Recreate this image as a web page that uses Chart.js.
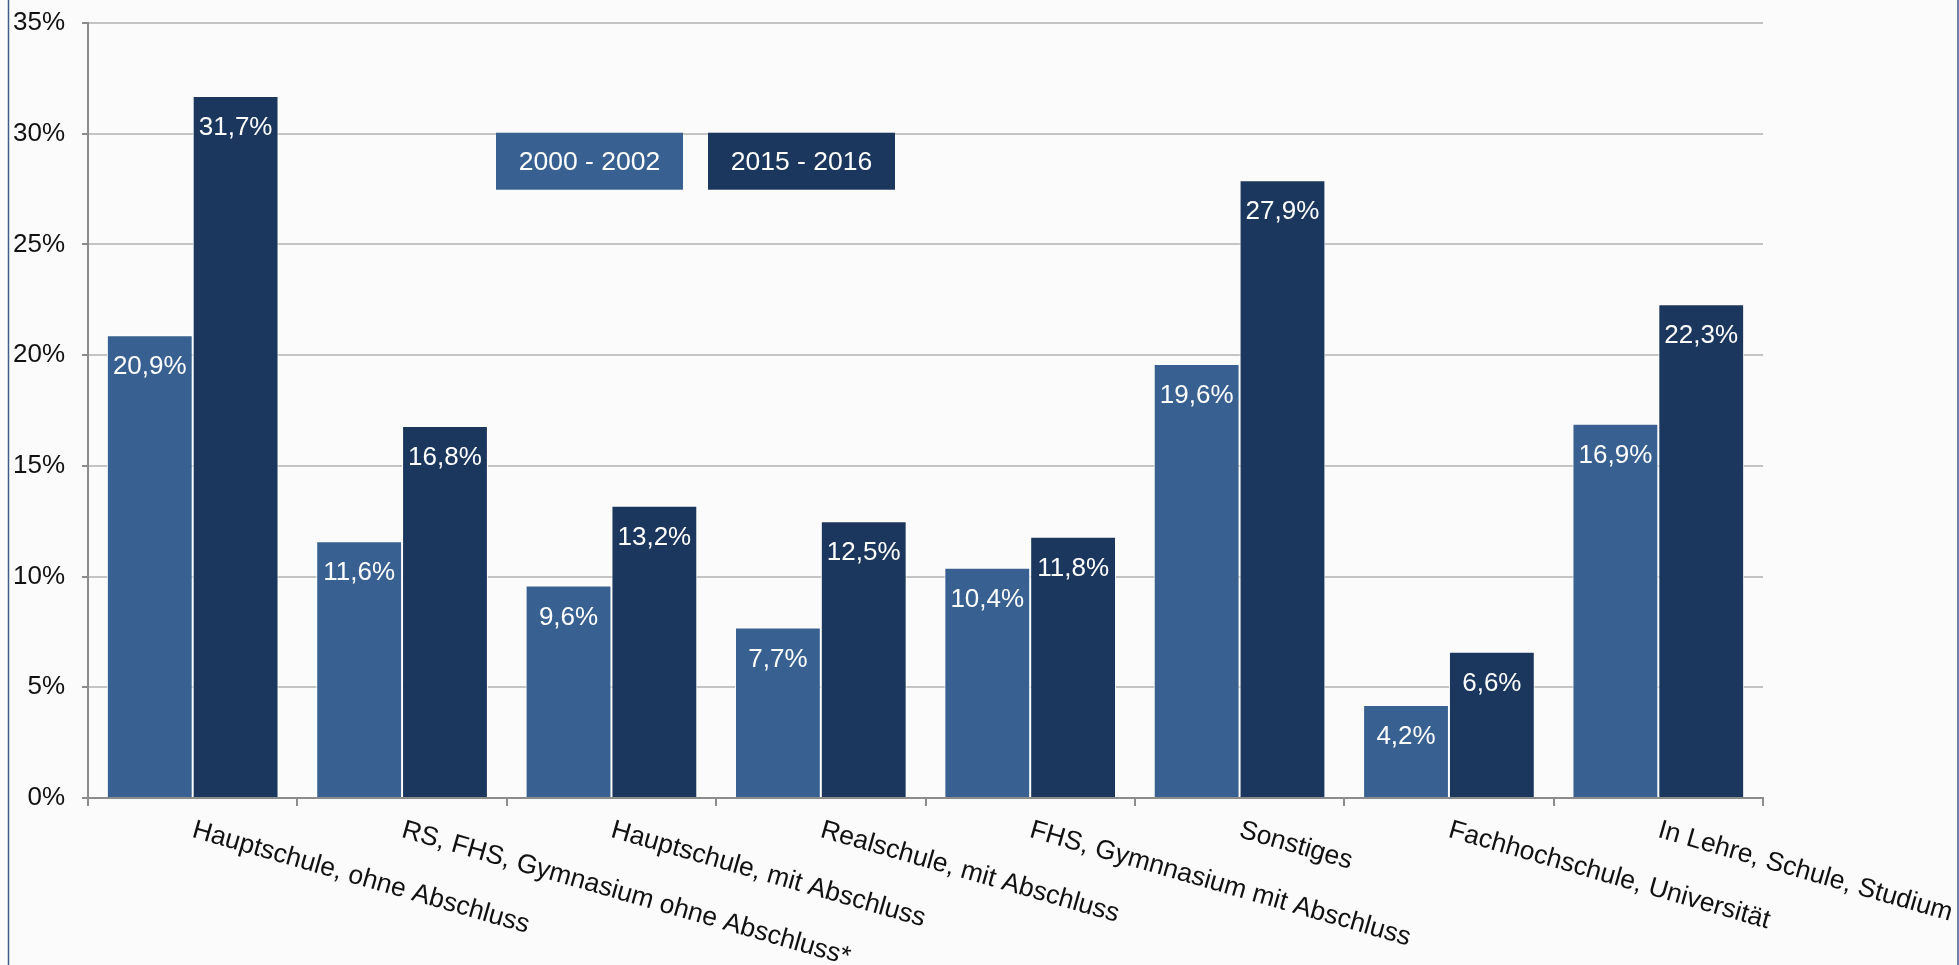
<!DOCTYPE html>
<html>
<head>
<meta charset="utf-8">
<script src="https://cdn.jsdelivr.net/npm/chart.js@4/dist/chart.umd.min.js"></script>
<style>
  html, body { margin: 0; padding: 0; background: #fbfbfb; }
  #wrap { width: 1959px; height: 965px; }
</style>
</head>
<body>
<div id="wrap"><canvas id="c" width="1959" height="965"></canvas></div>
<script>
const categories = [
  "Hauptschule, ohne Abschluss",
  "RS, FHS, Gymnasium ohne Abschluss*",
  "Hauptschule, mit Abschluss",
  "Realschule, mit Abschluss",
  "FHS, Gymnnasium mit Abschluss",
  "Sonstiges",
  "Fachhochschule, Universität",
  "In Lehre, Schule, Studium"
];
const seriesNames = ["2000 - 2002", "2015 - 2016"];
const values2000 = [20.9, 11.6, 9.6, 7.7, 10.4, 19.6, 4.2, 16.9];
const values2015 = [31.7, 16.8, 13.2, 12.5, 11.8, 27.9, 6.6, 22.3];
const yTicks = [0, 5, 10, 15, 20, 25, 30, 35];

const colors = ["#386191", "#1b375e"];
const FONT = "'Liberation Sans', Arial, sans-serif";

const fmt = v => v.toFixed(1).replace('.', ',') + '%';

const bgPlugin = {
  id: 'bg',
  beforeDraw(chart) {
    const ctx = chart.ctx;
    ctx.save();
    ctx.fillStyle = '#fbfbfb';
    ctx.fillRect(0, 0, chart.width, chart.height);
    ctx.restore();
  },
  afterDraw(chart) {
    const ctx = chart.ctx;
    ctx.save();
    ctx.strokeStyle = '#3f5f88';
    ctx.lineWidth = 1.5;
    ctx.beginPath();
    ctx.moveTo(8.5, 0); ctx.lineTo(8.5, chart.height);
    ctx.moveTo(chart.width - 1, 0); ctx.lineTo(chart.width - 1, chart.height);
    ctx.stroke();
    ctx.restore();
  }
};

const valueLabelPlugin = {
  id: 'valueLabels',
  afterDatasetsDraw(chart) {
    const ctx = chart.ctx;
    ctx.save();
    ctx.font = "26px " + FONT;
    ctx.fillStyle = '#ffffff';
    ctx.textAlign = 'center';
    ctx.textBaseline = 'middle';
    chart.data.datasets.forEach((ds, di) => {
      const meta = chart.getDatasetMeta(di);
      meta.data.forEach((bar, i) => {
        ctx.fillText(fmt(ds.data[i]), bar.x, bar.y + 32);
      });
    });
    ctx.restore();
  }
};

const xLabelPlugin = {
  id: 'xLabels',
  afterDraw(chart) {
    const ctx = chart.ctx;
    const xs = chart.scales.x;
    const top = chart.chartArea.bottom + 19;
    ctx.save();
    ctx.font = "26.5px " + FONT;
    ctx.fillStyle = '#111111';
    ctx.textAlign = 'left';
    ctx.textBaseline = 'top';
    chart.data.labels.forEach((lab, i) => {
      const x = xs.getPixelForValue(i) + 4;
      ctx.save();
      ctx.translate(x, top);
      ctx.rotate(16 * Math.PI / 180);
      ctx.fillText(lab, 0, 0);
      ctx.restore();
    });
    ctx.restore();
  }
};

const legendPlugin = {
  id: 'boxLegend',
  afterDraw(chart) {
    const ctx = chart.ctx;
    const ca = chart.chartArea;
    const w = 187, h = 57, gap = 25;
    let x = ca.left + 408;
    const y = chart.scales.y.getPixelForValue(30) - 1;
    ctx.save();
    ctx.font = "26.5px " + FONT;
    ctx.textAlign = 'center';
    ctx.textBaseline = 'middle';
    chart.data.datasets.forEach((ds) => {
      ctx.fillStyle = ds.backgroundColor;
      ctx.fillRect(x, y, w, h);
      ctx.fillStyle = '#ffffff';
      ctx.fillText(ds.label, x + w / 2, y + h / 2 + 1);
      x += w + gap;
    });
    ctx.restore();
  }
};

new Chart(document.getElementById('c'), {
  type: 'bar',
  data: {
    labels: categories,
    datasets: [
      { label: seriesNames[0], data: values2000, backgroundColor: colors[0],
        borderColor: '#ffffff', borderWidth: {left: 1, right: 1, top: 1, bottom: 0}, borderSkipped: false },
      { label: seriesNames[1], data: values2015, backgroundColor: colors[1],
        borderColor: '#ffffff', borderWidth: {left: 1, right: 1, top: 1, bottom: 0}, borderSkipped: false }
    ]
  },
  options: {
    responsive: false,
    devicePixelRatio: 1,
    animation: false,
    datasets: { bar: { categoryPercentage: 0.82, barPercentage: 1.0 } },
    layout: { padding: { top: 23, right: 196, bottom: 0, left: 0 } },
    plugins: { legend: { display: false }, tooltip: { enabled: false } },
    scales: {
      x: {
        offset: true,
        ticks: { display: false },
        grid: { offset: true, drawOnChartArea: false, drawTicks: true, tickLength: 8, color: '#8c8c8c', lineWidth: 2 },
        border: { display: true, color: '#8c8c8c', width: 2 },
        afterFit(scale) { scale.height = 167; scale.paddingLeft = 0; scale.paddingRight = 0; }
      },
      y: {
        min: yTicks[0],
        max: yTicks[yTicks.length - 1],
        afterBuildTicks(scale) { scale.ticks = yTicks.map(v => ({ value: v })); },
        ticks: {
          stepSize: 5,
          padding: 17,
          color: '#111111',
          font: { family: FONT, size: 26 },
          callback: v => v + '%'
        },
        grid: { color: '#c4c4c4', lineWidth: 2, tickLength: 6, tickColor: '#8c8c8c', tickWidth: 2 },
        border: { display: true, color: '#8c8c8c', width: 2 },
        afterFit(scale) { scale.width = 88; scale.paddingTop = 0; scale.paddingBottom = 0; }
      }
    }
  },
  plugins: [bgPlugin, valueLabelPlugin, xLabelPlugin, legendPlugin]
});
</script>
</body>
</html>
